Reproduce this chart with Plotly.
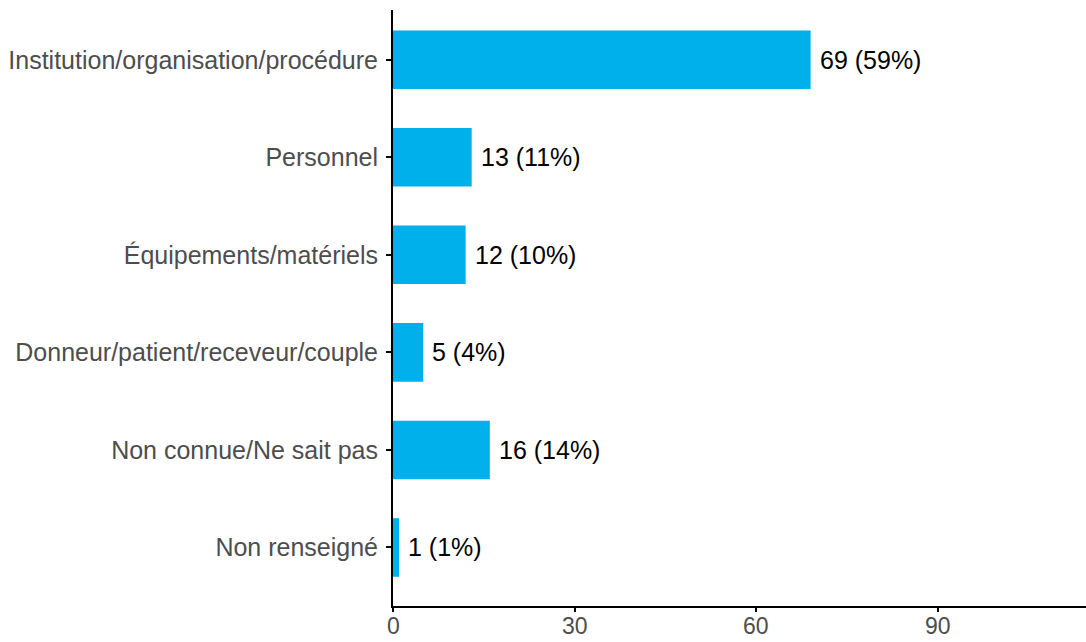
import plotly.graph_objects as go

categories = [
    "Institution/organisation/procédure",
    "Personnel",
    "Équipements/matériels",
    "Donneur/patient/receveur/couple",
    "Non connue/Ne sait pas",
    "Non renseigné",
]
counts = [69, 13, 12, 5, 16, 1]
x_ticks = [0, 30, 60, 90]

total = sum(counts)
labels = [f"{c} ({round(100 * c / total)}%)" for c in counts]

FONT = "Liberation Sans, Arial, sans-serif"

fig = go.Figure(
    go.Bar(
        x=counts,
        y=categories,
        orientation="h",
        marker=dict(color="#00B0EA", line=dict(width=0)),
        width=0.6,
        hoverinfo="skip",
    )
)

# value labels to the right of each bar
for cat, c, lab in zip(categories, counts, labels):
    fig.add_annotation(
        x=c, y=cat, text=lab, showarrow=False,
        xanchor="left", xshift=7,
        font=dict(size=25, color="#000000", family=FONT),
    )

# x tick labels placed tight under the axis line
for t in x_ticks:
    fig.add_annotation(
        x=t, xref="x", y=0, yref="paper", text=str(t), showarrow=False,
        xanchor="center", yanchor="top", yshift=-6, borderpad=0,
        font=dict(size=23, color="#4D4D4D", family=FONT),
    )

fig.update_layout(
    width=1086, height=642,
    margin=dict(l=393, r=0, t=10, b=36),
    plot_bgcolor="white", paper_bgcolor="white",
    showlegend=False,
    font=dict(family=FONT, size=25, color="#4D4D4D"),
)
fig.update_xaxes(
    range=[0, 114.5], tickvals=x_ticks, showgrid=False, zeroline=False,
    showline=True, linecolor="black", linewidth=2,
    ticks="outside", ticklen=4, tickwidth=2, tickcolor="black",
    showticklabels=False, automargin=False,
)
fig.update_yaxes(
    categoryorder="array", categoryarray=categories[::-1],
    range=[-0.6, 5.51], showgrid=False, zeroline=False,
    showline=True, linecolor="black", linewidth=2,
    ticks="outside", ticklen=5, tickwidth=2, tickcolor="black",
    ticklabelstandoff=3, automargin=False,
    tickfont=dict(size=25, color="#4D4D4D"),
)

fig.write_html("out.html")
